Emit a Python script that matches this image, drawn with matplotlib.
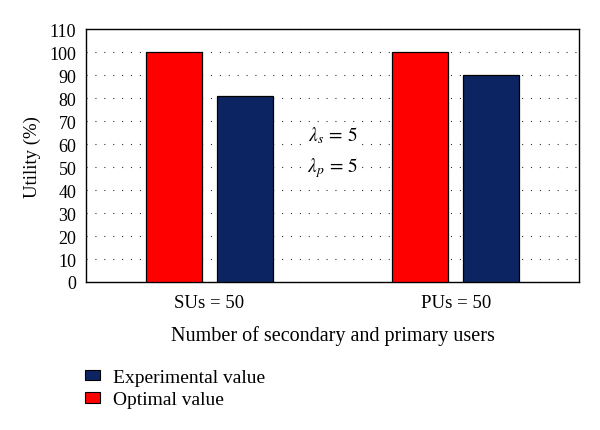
import matplotlib.pyplot as plt
import matplotlib.patches as mpatches
import numpy as np

plt.rcParams["font.family"] = ["Liberation Serif", "DejaVu Serif"]
plt.rcParams["mathtext.fontset"] = "stix"

groups = ["SUs = 50", "PUs = 50"]
optimal = [100, 100]
experimental = [81, 90]
yticks = list(range(0, 111, 10))

red = "#ff0000"
blue = "#0c2461"

fig = plt.figure(figsize=(6.0, 4.31), dpi=100)
ax = fig.add_axes([0.1433, 0.3434, 0.8217, 0.5866])

x = np.arange(len(groups))
w = 0.228
off = 0.144
ax.bar(x - off, optimal, w, color=red, edgecolor="black", linewidth=0.9, zorder=3)
ax.bar(x + off, experimental, w, color=blue, edgecolor="black", linewidth=0.9, zorder=3)

ax.set_xlim(-0.5, 1.5)
ax.set_ylim(0, 110)
ax.set_yticks(yticks)
ax.set_xticks(x)
ax.set_xticklabels(groups, fontsize=13.5)
ax.tick_params(axis="y", length=0, labelsize=13, pad=7)
ax.tick_params(axis="x", length=0, pad=9)
ax.yaxis.grid(True, color="#333333", linestyle=(0, (1, 7)), linewidth=0.8, zorder=0)
for s in ax.spines.values():
    s.set_linewidth(1.0)

ax.set_ylabel("Utility (%)", fontsize=13.5, labelpad=6)
ax.set_xlabel("Number of secondary and primary users", fontsize=14.5, labelpad=10)

ax.text(0.5, 64, r"$\lambda_s\,=\,5$", ha="center", va="center", fontsize=14,
        bbox=dict(facecolor="white", edgecolor="none", pad=1))
ax.text(0.5, 50, r"$\lambda_p\,=\,5$", ha="center", va="center", fontsize=14,
        bbox=dict(facecolor="white", edgecolor="none", pad=1))

handles = [mpatches.Patch(facecolor=blue, edgecolor="black", linewidth=0.8),
           mpatches.Patch(facecolor=red, edgecolor="black", linewidth=0.8)]
fig.legend(handles, ["Experimental value", "Optimal value"], loc="upper left",
           bbox_to_anchor=(0.128, 0.16), frameon=False, fontsize=14,
           handlelength=0.8, handleheight=0.45, handletextpad=0.65, labelspacing=0.28,
           borderaxespad=0)

fig.savefig("out.png", dpi=100)
